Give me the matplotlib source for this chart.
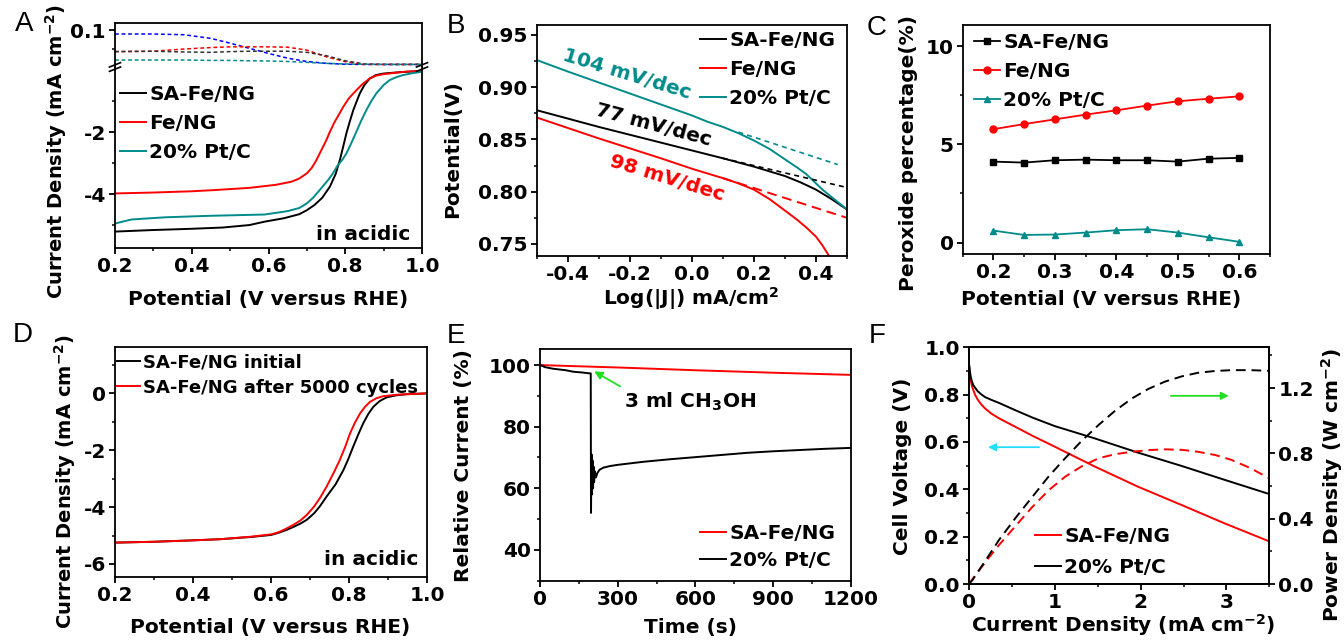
import matplotlib
matplotlib.use('Agg')
import matplotlib.pyplot as plt
from matplotlib.ticker import MultipleLocator, FixedLocator, FormatStrFormatter

plt.rcParams['font.family'] = ['DejaVu Sans']
plt.rcParams['font.weight'] = 'bold'
plt.rcParams['axes.labelweight'] = 'bold'
plt.rcParams['mathtext.fontset'] = 'dejavusans'
plt.rcParams['mathtext.default'] = 'bf'
plt.rcParams['axes.linewidth'] = 1.3

RED = '#FF0000'
TEAL = '#008B8B'
BLUE = '#0000FF'
GREEN = '#22DD22'
CYAN = '#22DDFF'

# ---------------- Panel A data ----------------
a_x_sa = [0.20, 0.30, 0.40, 0.48, 0.55, 0.59, 0.64, 0.68, 0.70, 0.72, 0.74, 0.76, 0.775, 0.786, 0.795, 0.803,
          0.812, 0.821, 0.830, 0.838, 0.850, 0.864, 0.880, 0.90, 0.95, 1.00]
a_y_sa = [-5.21, -5.16, -5.12, -5.08, -5.00, -4.89, -4.78, -4.65, -4.52, -4.35, -4.12, -3.76, -3.35, -2.90, -2.45,
          -2.04, -1.65, -1.29, -1.00, -0.75, -0.48, -0.27, -0.16, -0.11, -0.06, -0.03]
a_x_fe = [0.20, 0.30, 0.40, 0.46, 0.55, 0.62, 0.66, 0.68, 0.70, 0.713, 0.725, 0.737, 0.75, 0.76, 0.772, 0.785,
          0.795, 0.81, 0.829, 0.845, 0.864, 0.88, 0.90, 0.95, 1.00]
a_y_fe = [-3.98, -3.95, -3.91, -3.87, -3.80, -3.70, -3.60, -3.50, -3.33, -3.15, -2.90, -2.60, -2.28, -1.99, -1.68,
          -1.40, -1.18, -0.90, -0.65, -0.45, -0.27, -0.18, -0.13, -0.06, -0.02]
a_x_pt = [0.20, 0.243, 0.33, 0.45, 0.59, 0.65, 0.68, 0.70, 0.716, 0.73, 0.745, 0.757, 0.768, 0.78, 0.792, 0.803,
          0.816, 0.829, 0.842, 0.855, 0.868, 0.881, 0.90, 0.916, 0.935, 0.951, 0.975, 1.00]
a_y_pt = [-4.95, -4.82, -4.75, -4.70, -4.66, -4.55, -4.45, -4.30, -4.12, -3.92, -3.70, -3.52, -3.33, -3.08, -2.90,
          -2.69, -2.35, -1.99, -1.62, -1.29, -1.00, -0.75, -0.48, -0.32, -0.22, -0.16, -0.10, -0.05]
a_ring_x = [0.20, 0.30, 0.38, 0.45, 0.50, 0.55, 0.60, 0.65, 0.70, 0.75, 0.80, 0.85, 0.90, 0.95, 1.00]
a_ring_blue = [0.090, 0.090, 0.088, 0.078, 0.065, 0.051, 0.037, 0.024, 0.015, 0.010, 0.0075, 0.007, 0.007, 0.007, 0.007]
a_ring_red = [0.042, 0.043, 0.049, 0.053, 0.055, 0.055, 0.055, 0.054, 0.046, 0.028, 0.0145, 0.007, 0.007, 0.007, 0.007]
a_ring_black = [0.042, 0.043, 0.041, 0.040, 0.042, 0.043, 0.043, 0.043, 0.040, 0.031, 0.017, 0.0082, 0.007, 0.007, 0.007]
a_ring_teal = [0.019, 0.019, 0.019, 0.018, 0.018, 0.017, 0.0164, 0.015, 0.0127, 0.010, 0.0082, 0.0075, 0.007, 0.007, 0.007]

# ---------------- Panel B data ----------------
b_x_pt = [-0.5, -0.4, -0.2, 0.0, 0.05, 0.1, 0.15, 0.2, 0.25, 0.3, 0.34, 0.368, 0.40, 0.421, 0.45, 0.475, 0.5]
b_y_pt = [0.926, 0.915, 0.894, 0.873, 0.867, 0.862, 0.856, 0.849, 0.841, 0.831, 0.823, 0.817, 0.808, 0.802, 0.795, 0.789, 0.783]
b_x_sa = [-0.5, -0.3, -0.1, 0.1, 0.2, 0.3, 0.35, 0.4, 0.45, 0.5]
b_y_sa = [0.878, 0.862, 0.847, 0.832, 0.824, 0.815, 0.809, 0.802, 0.793, 0.783]
b_x_fe = [-0.5, -0.3, -0.1, 0.0, 0.1, 0.15, 0.2, 0.25, 0.3, 0.34, 0.368, 0.40, 0.42, 0.437, 0.46]
b_y_fe = [0.871, 0.851, 0.832, 0.822, 0.813, 0.808, 0.802, 0.793, 0.782, 0.773, 0.766, 0.757, 0.749, 0.741, 0.730]
b_fit_x_pt = [0.15, 0.47]
b_fit_y_pt = [0.857, 0.826]
b_fit_x_sa = [0.10, 0.50]
b_fit_y_sa = [0.832, 0.804]
b_fit_x_fe = [0.10, 0.50]
b_fit_y_fe = [0.813, 0.775]
b_slopes = ['104 mV/dec', '77 mV/dec', '98 mV/dec']

# ---------------- Panel C data ----------------
c_x = [0.20, 0.25, 0.30, 0.35, 0.40, 0.45, 0.50, 0.55, 0.60]
c_sa = [4.12, 4.07, 4.19, 4.22, 4.19, 4.19, 4.12, 4.27, 4.31]
c_fe = [5.77, 6.03, 6.27, 6.51, 6.73, 6.97, 7.19, 7.32, 7.44]
c_pt = [0.61, 0.39, 0.41, 0.51, 0.63, 0.68, 0.51, 0.27, 0.04]

# ---------------- Panel D data ----------------
d_x_init = [0.20, 0.30, 0.40, 0.469, 0.55, 0.60, 0.62, 0.64, 0.66, 0.675, 0.691, 0.71, 0.725, 0.742, 0.765, 0.785,
            0.798, 0.81, 0.823, 0.836, 0.849, 0.862, 0.878, 0.896, 0.92, 0.947, 1.00]
d_y_init = [-5.25, -5.22, -5.17, -5.13, -5.05, -4.98, -4.90, -4.80, -4.68, -4.58, -4.45, -4.22, -3.97, -3.63, -3.20,
            -2.70, -2.30, -1.88, -1.45, -1.05, -0.72, -0.47, -0.27, -0.14, -0.07, -0.03, 0.0]
d_x_after = [0.20, 0.30, 0.40, 0.469, 0.55, 0.60, 0.62, 0.64, 0.66, 0.675, 0.691, 0.71, 0.725, 0.742, 0.76, 0.776,
             0.79, 0.802, 0.815, 0.828, 0.84, 0.853, 0.87, 0.887, 0.92, 0.947, 1.00]
d_y_after = [-5.25, -5.22, -5.17, -5.13, -5.04, -4.96, -4.88, -4.75, -4.60, -4.47, -4.28, -3.98, -3.68, -3.28, -2.80,
             -2.34, -1.87, -1.41, -1.02, -0.70, -0.48, -0.30, -0.17, -0.10, -0.05, -0.03, 0.0]

# ---------------- Panel E data ----------------
e_t_sa = [0, 30, 300, 600, 900, 1200]
e_r_sa = [100.0, 99.9, 99.2, 98.3, 97.5, 96.8]
e_t_pt = [0, 20, 50, 80, 100, 130, 160, 190, 196, 197, 199, 201, 203, 205, 207, 209, 212, 216, 222, 230,
          245, 270, 300, 400, 500, 600, 700, 800, 900, 1000, 1100, 1200]
e_r_pt = [100, 99.3, 98.8, 98.5, 98.3, 97.8, 97.6, 97.3, 97.3, 52, 71, 58, 69, 60, 67, 62, 65.5, 63.5, 65, 66,
          66.7, 67.2, 67.6, 68.6, 69.4, 70.1, 70.8, 71.5, 72.0, 72.4, 72.8, 73.1]

# ---------------- Panel F data ----------------
f_i_v = [0.0, 0.01, 0.02, 0.035, 0.05, 0.07, 0.10, 0.14, 0.186, 0.26, 0.35, 0.535, 0.74, 1.0, 1.467, 1.97, 2.476, 2.98, 3.5]
f_v_pt = [0.93, 0.90, 0.875, 0.855, 0.84, 0.83, 0.815, 0.802, 0.79, 0.778, 0.765, 0.735, 0.703, 0.667, 0.615, 0.555, 0.499, 0.44, 0.38]
f_v_sa = [0.93, 0.89, 0.86, 0.835, 0.82, 0.80, 0.78, 0.76, 0.742, 0.72, 0.70, 0.665, 0.626, 0.58, 0.496, 0.411, 0.334, 0.256, 0.18]
f_i_p = [0.0, 0.04, 0.20, 0.35, 0.55, 0.74, 0.93, 1.12, 1.31, 1.51, 1.70, 1.90, 2.09, 2.28, 2.48, 2.67, 2.87, 3.06, 3.28, 3.5]
f_p_pt = [0.0, 0.024, 0.15, 0.27, 0.41, 0.535, 0.66, 0.77, 0.875, 0.974, 1.06, 1.137, 1.195, 1.239, 1.272, 1.294, 1.305, 1.31, 1.31, 1.306]
f_p_sa = [0.0, 0.03, 0.14, 0.239, 0.36, 0.473, 0.575, 0.657, 0.72, 0.77, 0.795, 0.81, 0.82, 0.825, 0.822, 0.81, 0.79, 0.76, 0.71, 0.647]

W, H = 1344, 640
fig = plt.figure(figsize=(W / 100, H / 100), dpi=100)

FS = 14.5


def add_ax(l, r, t, b):
    return fig.add_axes([l / W, 1 - b / H, (r - l) / W, (b - t) / H])


def style(ax, right_ticks=False):
    ax.tick_params(which='major', direction='out', length=4.5, width=1.3, labelsize=FS, pad=2)
    ax.tick_params(which='minor', direction='out', length=2.5, width=1.1)
    ax.tick_params(top=False, right=right_ticks, which='both')
    for lab in ax.get_xticklabels() + ax.get_yticklabels():
        lab.set_fontweight('bold')


def leg(ax, handles=None, **kw):
    base = dict(frameon=False, fontsize=FS, handlelength=1.3, handletextpad=0.15,
                borderpad=0, borderaxespad=0, labelspacing=0.42)
    base.update(kw)
    l = ax.legend(**base) if handles is None else ax.legend(handles=handles, **base)
    for t in l.get_texts():
        t.set_fontweight('bold')
    return l


def ylab(ax, text, x, y, fs=FS):
    ax.set_ylabel(text, fontsize=fs, fontweight='bold')
    ax.yaxis.set_label_coords(x, y)


def xlab(ax, text, x, y):
    ax.set_xlabel(text, fontsize=FS, fontweight='bold')
    ax.xaxis.set_label_coords(x, y)


# ================= Panel A =================
axAt = add_ax(115, 422, 23, 67)
axA = add_ax(115, 422, 67, 248)
for ax in (axAt, axA):
    ax.set_xlim(0.2, 1.0)
axAt.set_ylim(0, 0.12)
axA.set_ylim(-5.74, 0.1)
axAt.spines['bottom'].set_visible(False)
axA.spines['top'].set_visible(False)
dash = (0, (2.5, 1.8))
axAt.plot(a_ring_x, a_ring_blue, color=BLUE, lw=1.1, ls=dash)
axAt.plot(a_ring_x, a_ring_red, color=RED, lw=1.1, ls=dash)
axAt.plot(a_ring_x, a_ring_black, color='#333333', lw=1.1, ls=dash)
axAt.plot(a_ring_x, a_ring_teal, color=TEAL, lw=1.1, ls=dash)
axAt.set_xticks([])
axAt.yaxis.set_major_locator(FixedLocator([0.1]))
axAt.yaxis.set_minor_locator(FixedLocator([0.05]))
axAt.yaxis.set_major_formatter(FormatStrFormatter('%.1f'))
style(axAt)
axAt.tick_params(bottom=False, which='both')

axA.plot(a_x_sa, a_y_sa, color='black', lw=1.4, label='SA-Fe/NG')
axA.plot(a_x_fe, a_y_fe, color=RED, lw=1.4, label='Fe/NG')
axA.plot(a_x_pt, a_y_pt, color=TEAL, lw=1.4, label='20% Pt/C')
axA.xaxis.set_major_locator(MultipleLocator(0.2))
axA.xaxis.set_minor_locator(MultipleLocator(0.1))
axA.xaxis.set_major_formatter(FormatStrFormatter('%.1f'))
axA.yaxis.set_major_locator(FixedLocator([-4, -2]))
axA.yaxis.set_minor_locator(FixedLocator([-5, -3, -1]))
axA.yaxis.set_major_formatter(FormatStrFormatter('%d'))
style(axA)
leg(axA, loc='upper left', bbox_to_anchor=(0.016, 0.90), labelspacing=0.5)
axA.text(0.961, 0.044, 'in acidic', transform=axA.transAxes, ha='right', va='baseline',
         fontsize=FS, fontweight='bold')
ylab(axA, 'Current Density (mA cm$^{-2}$)', -0.15, 0.533, fs=14)
xlab(axA, 'Potential (V versus RHE)', 0.5, -0.232)
# break marks
for xb in (0, 1):
    for dy in (-0.012, 0.012):
        axA.plot([xb - 0.018, xb + 0.018], [1 + dy - 0.012, 1 + dy + 0.012], transform=axA.transAxes,
                 color='black', lw=1.2, clip_on=False)

# ================= Panel B =================
axB = add_ax(536.7, 847, 25, 256)
axB.set_xlim(-0.5, 0.5)
axB.set_ylim(0.7385, 0.9595)
axB.plot(b_x_sa, b_y_sa, color='black', lw=1.4, label='SA-Fe/NG')
axB.plot(b_x_fe, b_y_fe, color=RED, lw=1.4, label='Fe/NG')
axB.plot(b_x_pt, b_y_pt, color=TEAL, lw=1.4, label='20% Pt/C')
axB.plot(b_fit_x_pt, b_fit_y_pt, color=TEAL, lw=1.2, ls=(0, (3, 2.5)))
axB.plot(b_fit_x_sa, b_fit_y_sa, color='black', lw=1.2, ls=(0, (3, 2.5)))
axB.plot(b_fit_x_fe, b_fit_y_fe, color=RED, lw=1.4, ls=(0, (5, 3)))
axB.text(-0.21, 0.912, b_slopes[0], color=TEAL, fontsize=FS, fontweight='bold', rotation=-17,
         ha='center', va='center', rotation_mode='anchor')
axB.text(-0.124, 0.864, b_slopes[1], color='black', fontsize=FS, fontweight='bold', rotation=-15,
         ha='center', va='center', rotation_mode='anchor')
axB.text(-0.08, 0.813, b_slopes[2], color=RED, fontsize=FS, fontweight='bold', rotation=-17,
         ha='center', va='center', rotation_mode='anchor')
axB.xaxis.set_major_locator(MultipleLocator(0.2))
axB.xaxis.set_minor_locator(MultipleLocator(0.1))
axB.xaxis.set_major_formatter(FormatStrFormatter('%.1f'))
axB.yaxis.set_major_locator(MultipleLocator(0.05))
axB.yaxis.set_minor_locator(MultipleLocator(0.025))
axB.yaxis.set_major_formatter(FormatStrFormatter('%.2f'))
style(axB)
leg(axB, loc='upper left', bbox_to_anchor=(0.526, 0.975), labelspacing=0.5)
ylab(axB, 'Potential(V)', -0.241, 0.465)
xlab(axB, 'Log(|J|) mA/cm$^{2}$', 0.497, -0.125)

# ================= Panel C =================
axC = add_ax(962.7, 1270, 25, 254)
axC.set_xlim(0.15, 0.65)
axC.set_ylim(-0.58, 11.07)
axC.plot(c_x, c_sa, color='black', lw=1.3, marker='s', ms=4.5, label='SA-Fe/NG')
axC.plot(c_x, c_fe, color=RED, lw=1.3, marker='o', ms=5, label='Fe/NG')
axC.plot(c_x, c_pt, color=TEAL, lw=1.3, marker='^', ms=5, label='20% Pt/C')
axC.xaxis.set_major_locator(MultipleLocator(0.1))
axC.xaxis.set_minor_locator(MultipleLocator(0.05))
axC.xaxis.set_major_formatter(FormatStrFormatter('%.1f'))
axC.yaxis.set_major_locator(MultipleLocator(5))
axC.yaxis.set_minor_locator(MultipleLocator(2.5))
axC.yaxis.set_major_formatter(FormatStrFormatter('%d'))
style(axC)
leg(axC, loc='upper left', bbox_to_anchor=(0.037, 0.965), labelspacing=0.5)
ylab(axC, 'Peroxide percentage(%)', -0.145, 0.443)
xlab(axC, 'Potential (V versus RHE)', 0.45, -0.157)

# ================= Panel D =================
axD = add_ax(115, 427.3, 347.3, 577.3)
axD.set_xlim(0.2, 1.0)
axD.set_ylim(-6.47, 1.62)
axD.plot(d_x_init, d_y_init, color='black', lw=1.4, label='SA-Fe/NG initial')
axD.plot(d_x_after, d_y_after, color=RED, lw=1.4, label='SA-Fe/NG after 5000 cycles')
axD.xaxis.set_major_locator(MultipleLocator(0.2))
axD.xaxis.set_minor_locator(MultipleLocator(0.1))
axD.xaxis.set_major_formatter(FormatStrFormatter('%.1f'))
axD.yaxis.set_major_locator(MultipleLocator(2))
axD.yaxis.set_minor_locator(MultipleLocator(1))
axD.yaxis.set_major_formatter(FormatStrFormatter('%d'))
style(axD)
leg(axD, loc='upper left', bbox_to_anchor=(0.005, 0.975), fontsize=13, labelspacing=0.42)
axD.text(0.97, 0.053, 'in acidic', transform=axD.transAxes, ha='right', va='baseline',
         fontsize=FS, fontweight='bold')
ylab(axD, 'Current Density (mA cm$^{-2}$)', -0.12, 0.416, fs=14)
xlab(axD, 'Potential (V versus RHE)', 0.496, -0.177)

# ================= Panel E =================
axE = add_ax(540, 850.7, 349.3, 580.7)
axE.set_xlim(0, 1200)
axE.set_ylim(30, 105.1)
axE.plot(e_t_sa, e_r_sa, color=RED, lw=1.4, label='SA-Fe/NG')
axE.plot(e_t_pt, e_r_pt, color='black', lw=1.4, label='20% Pt/C')
axE.annotate('', xy=(200, 98.4), xytext=(319, 92.6),
             arrowprops=dict(arrowstyle='-|>', color=GREEN, lw=1.3, mutation_scale=12))
axE.text(325, 88.1, '3 ml CH$_3$OH', fontsize=FS, fontweight='bold', ha='left', va='center')
axE.xaxis.set_major_locator(MultipleLocator(300))
axE.xaxis.set_minor_locator(MultipleLocator(150))
axE.yaxis.set_major_locator(MultipleLocator(20))
axE.yaxis.set_minor_locator(MultipleLocator(10))
style(axE)
leg(axE, loc='lower left', bbox_to_anchor=(0.515, 0.045))
ylab(axE, 'Relative Current (%)', -0.216, 0.496)
xlab(axE, 'Time (s)', 0.483, -0.161)

# ================= Panel F =================
axF = add_ax(969, 1269.3, 347.3, 584)
axF.set_xlim(0, 3.5)
axF.set_ylim(0, 1.0)
axF2 = axF.twinx()
axF2.set_ylim(0, 1.45)
axF.plot(f_i_v, f_v_sa, color=RED, lw=1.4, label='SA-Fe/NG')
axF.plot(f_i_v, f_v_pt, color='black', lw=1.4, label='20% Pt/C')
axF2.plot(f_i_p, f_p_sa, color=RED, lw=1.4, ls=(0, (5, 3)))
axF2.plot(f_i_p, f_p_pt, color='black', lw=1.4, ls=(0, (5, 3)))
axF.annotate('', xy=(0.19, 0.578), xytext=(0.85, 0.578),
             arrowprops=dict(arrowstyle='-|>', color=CYAN, lw=1.3, mutation_scale=11))
axF.annotate('', xy=(3.06, 0.795), xytext=(2.32, 0.795),
             arrowprops=dict(arrowstyle='-|>', color=GREEN, lw=1.3, mutation_scale=11))
axF.xaxis.set_major_locator(MultipleLocator(1))
axF.xaxis.set_minor_locator(MultipleLocator(0.5))
axF.yaxis.set_major_locator(MultipleLocator(0.2))
axF.yaxis.set_minor_locator(MultipleLocator(0.1))
axF.yaxis.set_major_formatter(FormatStrFormatter('%.1f'))
axF2.yaxis.set_major_locator(MultipleLocator(0.4))
axF2.yaxis.set_minor_locator(MultipleLocator(0.2))
axF2.yaxis.set_major_formatter(FormatStrFormatter('%.1f'))
style(axF)
axF2.tick_params(which='major', direction='out', length=4.5, width=1.3, labelsize=FS, pad=2)
axF2.tick_params(which='minor', direction='out', length=2.5, width=1.1)
for lab in axF2.get_yticklabels():
    lab.set_fontweight('bold')
leg(axF, loc='lower left', bbox_to_anchor=(0.22, 0.03), labelspacing=0.6)
ylab(axF, 'Cell Voltage (V)', -0.19, 0.496)
axF2.set_ylabel('Power Density (W cm$^{-2}$)', fontsize=FS, fontweight='bold')
axF2.yaxis.set_label_coords(1.165, 0.42)
xlab(axF, 'Current Density (mA cm$^{-2}$)', 0.513, -0.117)

# ================= Panel letters =================
for letter, (px, py) in {'A': (24, 24), 'B': (456, 26), 'C': (877, 28),
                         'D': (23, 335), 'E': (456, 336), 'F': (877, 336)}.items():
    fig.text(px / W, 1 - py / H, letter, fontsize=20, fontweight='normal', ha='center', va='center',
             family='Liberation Sans')

fig.savefig('out.png', dpi=100)
